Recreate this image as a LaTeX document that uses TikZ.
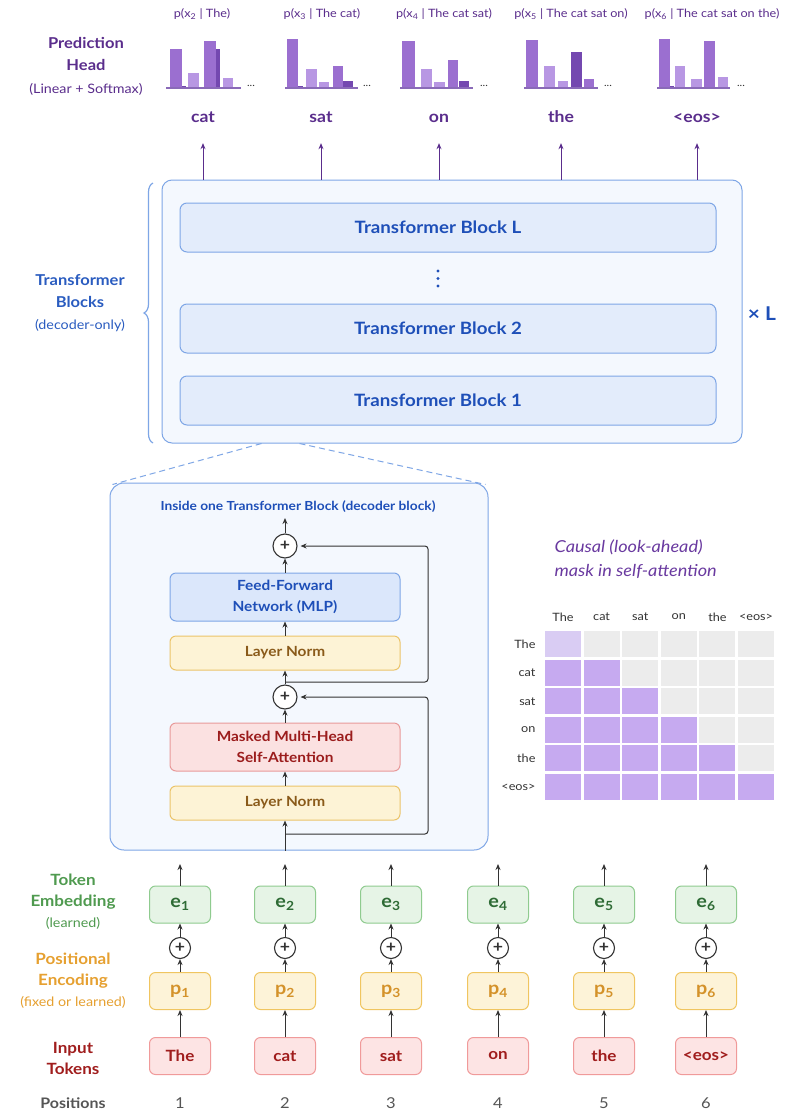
\documentclass[tikz,border=0pt]{standalone}
\usepackage{fontspec}
\setmainfont{Lato}[FakeStretch=1.1]
\usetikzlibrary{arrows.meta,decorations.pathreplacing,calc}

\definecolor{headpurple}{HTML}{5A2D8C}
\definecolor{barmid}{HTML}{9B6FD0}
\definecolor{barlight}{HTML}{B897E3}
\definecolor{bardark}{HTML}{7448B0}
\definecolor{barbase}{HTML}{8A6AB8}
\definecolor{blueborder}{HTML}{7EA6E6}
\definecolor{bluefillout}{HTML}{F4F8FE}
\definecolor{bluefillin}{HTML}{E3ECFB}
\definecolor{bluetext}{HTML}{1E4FB8}
\definecolor{bluelabel}{HTML}{2A5CC0}
\definecolor{arrowgray}{HTML}{333333}
\definecolor{lnfill}{HTML}{FDF3D6}
\definecolor{lnborder}{HTML}{EBC46A}
\definecolor{lntext}{HTML}{8A5A1A}
\definecolor{mhafill}{HTML}{FBE1E1}
\definecolor{mhaborder}{HTML}{E89A9A}
\definecolor{mhatext}{HTML}{9B1C1C}
\definecolor{ffnfill}{HTML}{DBE7FB}
\definecolor{maskpurple}{HTML}{C6AAF0}
\definecolor{masklight}{HTML}{D9CCF3}
\definecolor{maskgray}{HTML}{ECECEC}
\definecolor{masktitle}{HTML}{6A3AA0}
\definecolor{gridtext}{HTML}{333333}
\definecolor{egreen}{HTML}{4F9A4F}
\definecolor{etext}{HTML}{2E6B35}
\definecolor{efill}{HTML}{E6F4E6}
\definecolor{eborder}{HTML}{8FCB8F}
\definecolor{porange}{HTML}{E6A030}
\definecolor{ptext}{HTML}{D4922A}
\definecolor{pfill}{HTML}{FDF3D8}
\definecolor{pborder}{HTML}{F0C560}
\definecolor{tokred}{HTML}{A01D1D}
\definecolor{tokfill}{HTML}{FDE4E4}
\definecolor{tokborder}{HTML}{F09A9A}
\definecolor{posgray}{HTML}{555555}

\newcommand\fsz[2]{\fontsize{#1}{#2}\selectfont}

\begin{document}
\begin{tikzpicture}[x=1pt,y=-1pt,
  arr/.style={draw=arrowgray, line width=1pt, -{Stealth[length=6pt,width=5pt]}},
  parr/.style={draw=headpurple, line width=0.9pt, -{Stealth[length=6pt,width=5pt]}},
  plusnode/.style={circle, draw=arrowgray, line width=1.1pt, fill=white, minimum size=#1,
    inner sep=0pt, font=\fsz{16}{16}\bfseries, text=arrowgray},
  plusnode/.default=24pt,
  cond/.style={font=\fsz{11.5}{13}, text=headpurple},
  word/.style={font=\fsz{16}{18}\bfseries, text=headpurple, inner sep=0pt, text height=11pt, text depth=3pt},
  blockbox/.style={draw=blueborder, fill=bluefillin, line width=1pt, rounded corners=7pt,
    minimum width=536pt, minimum height=49pt},
  blocktext/.style={font=\fsz{17}{19}\bfseries, text=bluetext},
  layerbox/.style={rounded corners=6pt, line width=1pt, minimum width=230pt, align=center},
  lnbox/.style={layerbox, draw=lnborder, fill=lnfill, minimum height=34pt,
    font=\fsz{14}{18}\bfseries, text=lntext},
  tokenbox/.style={rounded corners=6pt, line width=1pt, minimum width=61pt, minimum height=37pt,
    font=\fsz{15.5}{17}\bfseries},
  ebox/.style={tokenbox, draw=eborder, fill=efill, text=etext, font=\fsz{18}{18}\bfseries},
  pbox/.style={tokenbox, draw=pborder, fill=pfill, text=ptext, font=\fsz{18}{18}\bfseries},
  tbox/.style={tokenbox, draw=tokborder, fill=tokfill, text=tokred},
  sidelab/.style={align=center, font=\fsz{15.5}{21}\bfseries},
  gridlab/.style={font=\fsz{11.5}{13}, text=gridtext},
]
\fill[white] (0,0) rectangle (795,1111);
\useasboundingbox (0,0) rectangle (795,1111);

% ---------- prediction head ----------
\node[align=center, font=\fsz{15}{22.5}\bfseries, text=headpurple] (phead) at (86,66)
  {Prediction\\Head\\{\mdseries\fsz{13}{22.5}(Linear + Softmax)}};

\node[cond] (c1) at (202,14) {p(x\textsubscript{2} | The)};
\node[cond] (c2) at (322,14) {p(x\textsubscript{3} | The cat)};
\node[cond] (c3) at (444,14) {p(x\textsubscript{4} | The cat sat)};
\node[cond] (c4) at (571,14) {p(x\textsubscript{5} | The cat sat on)};
\node[cond] (c5) at (712,14) {p(x\textsubscript{6} | The cat sat on the)};

% probability bars: left edge / width / height / colour
\foreach \bx/\bw/\bh/\bc in {
  170/12/39/barmid, 182/4/2/bardark, 188/11/15/barlight, 204/12/47/barmid, 216/4/39/bardark, 223/10/10/barlight,
  287/11/49/barmid, 298/5/2/bardark, 306/11/19/barlight, 319/10/6/barlight, 333/10/22/barmid, 343/10/7/bardark,
  402/13/47/barmid, 421/11/19/barlight, 434/11/6/barlight, 448/10/28/barmid, 459/10/7/bardark,
  526/12/48/barmid, 544/11/22/barlight, 558/10/7/barlight, 571/11/36/bardark, 584/10/9/barmid,
  659/11/49/barmid, 670/4/2/bardark, 675/10/22/barlight, 691/11/9/barlight, 704/11/47/barmid, 718/10/11/barlight}
  \fill[\bc] (\bx,88) rectangle ++(\bw,-\bh);
\foreach \ax/\bx/\dx in {166/241/251, 285/358/367, 400/473/484, 524/598/608, 657/730/741}{
  \draw[barbase, line width=1.2pt] (\ax,88) -- (\bx,88);
  \node[font=\fsz{10}{10}, text=arrowgray, inner sep=0pt] at (\dx,86) {...};
}

\node[word] (w1) at (203,118) {cat};
\node[word] (w2) at (321,118) {sat};
\node[word] (w3) at (439,118) {on};
\node[word] (w4) at (561,118) {the};
\node[word] (w5) at (697,118) {<eos>};

% ---------- stack of transformer blocks ----------
\node[draw=blueborder, fill=bluefillout, line width=1pt, rounded corners=10pt,
  minimum width=580pt, minimum height=263pt] (big) at (452,311.5) {};
\node[blockbox, label={[blocktext, xshift=-10pt]center:Transformer Block L}] (blkL) at (448,227.5) {};
\node[blockbox, label={[blocktext, xshift=-10pt]center:Transformer Block 2}] (blk2) at (448,328.5) {};
\node[blockbox, label={[blocktext, xshift=-10pt]center:Transformer Block 1}] (blk1) at (448,400.5) {};
\foreach \dy in {271,278.5,286} \fill[bluetext] (438,\dy) circle (1.7pt);

\node[font=\fsz{19}{21}\bfseries, text=bluetext] (times) at (762,314) {× L};

\foreach \k in {1,...,5}
  \draw[parr] (big.north -| w\k) -- ([yshift=-18pt]w\k.south);

\draw[blueborder, line width=1.2pt, decorate, decoration={brace, amplitude=9pt}]
  (153,443) -- (153,183);
\node[align=center, font=\fsz{15}{22}\bfseries, text=bluelabel] (tblab) at (80,303)
  {Transformer\\Blocks\\{\mdseries\fsz{13}{22}(decoder-only)}};

% ---------- one decoder block in detail ----------
\node[draw=blueborder, fill=bluefillout, line width=1pt, rounded corners=14pt,
  minimum width=378pt, minimum height=367pt] (ib) at (299,666.5) {};
\draw[blueborder, line width=1pt, dash pattern=on 6pt off 4pt]
  ([xshift=100pt]big.south west) -- ([xshift=3pt,yshift=-2pt]ib.north west);
\draw[blueborder, line width=1pt, dash pattern=on 6pt off 4pt]
  ([xshift=138pt]big.south west) -- ([xshift=-3pt,yshift=-2pt]ib.north east);
\node[font=\fsz{12.5}{14}\bfseries, text=bluetext] (ibtitle) at (298,507)
  {Inside one Transformer Block (decoder block)};

\node[plusnode] (plus2) at (285,546) {+};
\node[layerbox, draw=blueborder, fill=ffnfill, minimum height=48pt,
  font=\fsz{14}{20.5}\bfseries, text=bluetext] (ffn) at (285,597) {Feed-Forward\\Network (MLP)};
\node[lnbox] (ln2) at (285,653) {Layer Norm};
\node[plusnode] (plus1) at (285,697) {+};
\node[layerbox, draw=mhaborder, fill=mhafill, minimum height=48pt,
  font=\fsz{14}{20.5}\bfseries, text=mhatext] (mha) at (285,747) {Masked Multi-Head\\Self-Attention};
\node[lnbox] (ln1) at (285,803) {Layer Norm};

\coordinate (blkout) at (285,518);
\coordinate (r1) at (285,834);
\coordinate (r2) at (285,682);
\coordinate (resx) at (428,700);

\draw[arr] (ib.south -| ln1) -- (ln1);
\draw[arr] (ln1) -- (mha);
\draw[arr] (mha) -- (plus1);
\draw[arr] (plus1) -- (ln2);
\draw[arr] (ln2) -- (ffn);
\draw[arr] (ffn) -- (plus2);
\draw[arr] (plus2) -- (blkout);
\draw[arr, shorten >=3pt, rounded corners=3pt] (r1) -- (r1 -| resx) |- (plus1);
\draw[arr, shorten >=3pt, rounded corners=3pt] (r2) -- (r2 -| resx) |- (plus2);

% ---------- causal mask ----------
\node[anchor=west, align=left, font=\fsz{16.5}{24}\itshape, text=masktitle] (mtitle) at (551,559)
  {Causal (look-ahead)\\mask in self-attention};
\foreach \i in {0,...,5}{
  \foreach \j in {0,...,5}{
    \ifnum\i>\j \def\cellcol{maskgray}\else \def\cellcol{maskpurple}\fi
    \fill[\cellcol] (545+38.6*\i,631+28.6*\j) rectangle ++(36,26);
  }
}
\fill[masklight] (545,631) rectangle ++(36,26);
\foreach \t [count=\k from 0] in {The,cat,sat,on,the,<eos>}{
  \node[gridlab] (colh\k) at (563+38.6*\k,617) {\t};
  \node[gridlab, anchor=east] (rowh\k) at (539,644+28.6*\k) {\t};
}

% ---------- input embeddings ----------
\node[sidelab, text=egreen] (lemb) at (73,902)
  {Token\\Embedding\\{\mdseries\fsz{13}{21}(learned)}};
\node[sidelab, text=porange] (lpos) at (73,981)
  {Positional\\Encoding\\{\mdseries\fsz{13}{21}(fixed or learned)}};
\node[sidelab, text=tokred] (ltok) at (73,1058) {Input\\Tokens};
\node[font=\fsz{14.5}{16}\bfseries, text=posgray] (lposn) at (73,1103) {Positions};

\foreach \x/\tok/\k in {180/The/1, 285/cat/2, 391/sat/3, 498/on/4, 604/the/5, 706/<eos>/6}{
  \node[tbox] (tok\k) at (\x,1056) {\tok};
  \node[pbox] (p\k) at (\x,991) {p\textsubscript{\k}};
  \node[plusnode=21pt] (pl\k) at (\x,948) {+};
  \node[ebox] (e\k) at (\x,904.5) {e\textsubscript{\k}};
  \coordinate (eo\k) at (\x,864);
  \node[font=\fsz{15}{16}, text=posgray] (pos\k) at (\x,1103) {\k};
  \draw[arr] (tok\k) -- (p\k);
  \draw[arr] (p\k) -- (pl\k);
  \draw[arr] (pl\k) -- (e\k);
  \draw[arr] (e\k) -- (eo\k);
}
\end{tikzpicture}
\end{document}
